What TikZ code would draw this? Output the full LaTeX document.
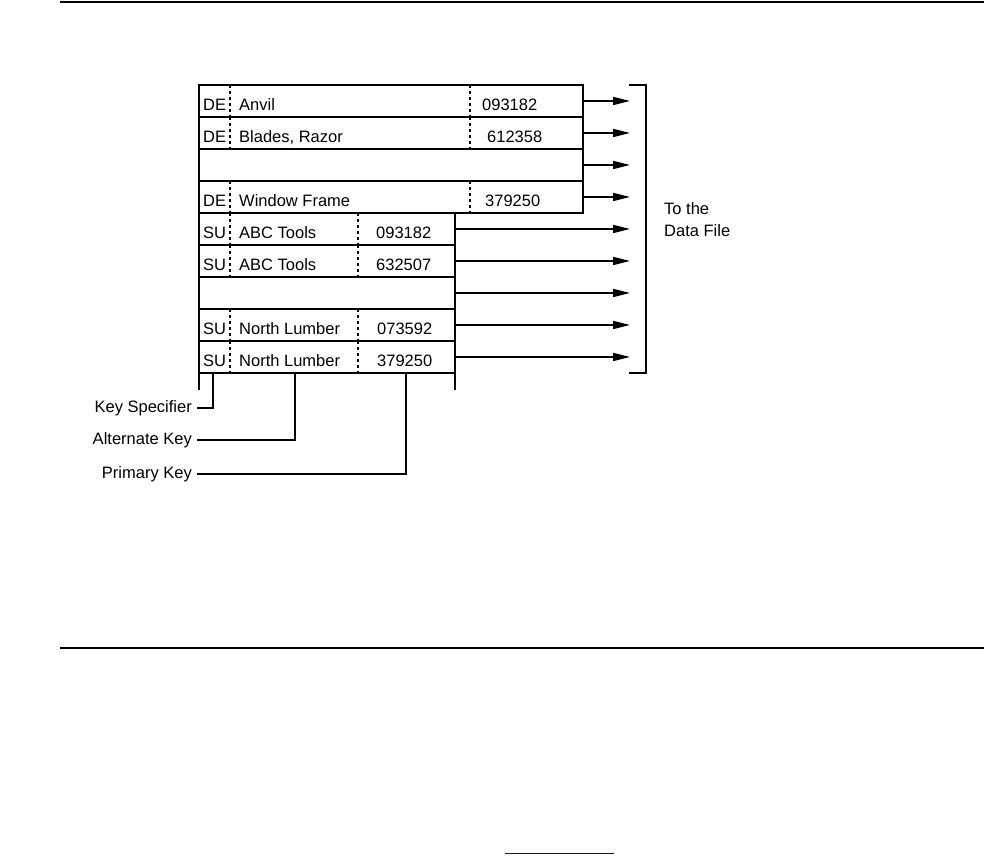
\documentclass[tikz,border=0pt]{standalone}
\usepackage{fontspec}
\setmainfont{Liberation Sans}
\usetikzlibrary{arrows.meta}
\begin{document}
\begin{tikzpicture}[x=1pt,y=-1pt,
  every node/.style={font=\fontsize{16.5}{19}\selectfont},
  ln/.style={line width=1.5pt},
  rowbox/.style={draw,line width=1.5pt,rectangle,inner sep=0pt,outer sep=0pt,anchor=north west,minimum height=32pt},
  wide/.style={rowbox,minimum width=384pt},
  narrow/.style={rowbox,minimum width=256pt},
  sep/.style={line width=1.5pt,dash pattern=on 3pt off 3pt},
  txt/.style={inner sep=0pt,anchor=base west},
  lbl/.style={inner sep=0pt,anchor=east},
  ptr/.style={line width=1.5pt,-{Triangle[length=17pt,width=8pt]}},
  rule/.style={line width=2pt},
]
\useasboundingbox (0,0) rectangle (984,855);
% page rules
\draw[rule] (60,1.5) -- (984,1.5);
\draw[rule] (60,648) -- (984,648);
\draw[blue,line width=1pt] (505,853.5) -- (614,853.5);
% rows
\node[wide] (r1) at (199,85) {};
\node[wide] (r2) at (199,117) {};
\node[wide] (r3) at (199,149) {};
\node[wide] (r4) at (199,181) {};
\node[narrow] (r5) at (199,213) {};
\node[narrow] (r6) at (199,245) {};
\node[narrow] (r7) at (199,277) {};
\node[narrow] (r8) at (199,309) {};
\node[narrow] (r9) at (199,341) {};
% dashed separators
\foreach \t in {85,117,181} {
  \draw[sep] (230,\t) -- (230,\t+32);
  \draw[sep] (470,\t) -- (470,\t+32);
}
\foreach \t in {213,245,309,341} {
  \draw[sep] (230,\t) -- (230,\t+32);
  \draw[sep] (358,\t) -- (358,\t+32);
}
% texts upper
\node[txt] (k1) at (203,110.5) {DE};
\node[txt] (a1) at (239,110.5) {Anvil};
\node[txt] (p1) at (482,110.5) {093182};
\node[txt] (k2) at (203,142.5) {DE};
\node[txt] (a2) at (239,142.5) {Blades, Razor};
\node[txt] (p2) at (487,142.5) {612358};
\node[txt] (k4) at (203,206.5) {DE};
\node[txt] (a4) at (239,206.5) {Window Frame};
\node[txt] (p4) at (485,206.5) {379250};
% texts lower
\node[txt] (k5) at (203,238.5) {SU};
\node[txt] (a5) at (239,238.5) {ABC Tools};
\node[txt] (p5) at (376,238.5) {093182};
\node[txt] (k6) at (203,270.5) {SU};
\node[txt] (a6) at (239,270.5) {ABC Tools};
\node[txt] (p6) at (376,270.5) {632507};
\node[txt] (k8) at (203,334.5) {SU};
\node[txt] (a8) at (239,334.5) {North Lumber};
\node[txt] (p8) at (377,334.5) {073592};
\node[txt] (k9) at (203,366.5) {SU};
\node[txt] (a9) at (239,366.5) {North Lumber};
\node[txt] (p9) at (377,366.5) {379250};
% arrows to data file
\coordinate (df) at (630,0);
\foreach \r in {r1,r2,r3,r4,r5,r6,r7,r8,r9} {
  \draw[ptr] (\r.east) -- (\r.east -| df);
}
% bracket
\draw[ln] (629,85) -- (646,85) -- (646,373) -- (629,373);
\node[txt] (tothe) at (664,214.5) {To the};
\node[txt] (datafile) at (664,236.5) {Data File};
% extensions below box
\draw[ln] (r9.south west) -- ++(0,17);
\draw[ln] (r9.south east) -- ++(0,17);
% key labels
\node[lbl] (ks) at (192,408) {Key Specifier};
\node[lbl] (ak) at (192,440) {Alternate Key};
\node[lbl] (pk) at (192,474) {Primary Key};
\coordinate (ksx) at (213,373);
\coordinate (akx) at (295,373);
\coordinate (pkx) at (406,373);
\draw[ln] (ksx) |- ([xshift=5pt]ks.east);
\draw[ln] (akx) |- ([xshift=5pt]ak.east);
\draw[ln] (pkx) |- ([xshift=5pt]pk.east);
\end{tikzpicture}
\end{document}
